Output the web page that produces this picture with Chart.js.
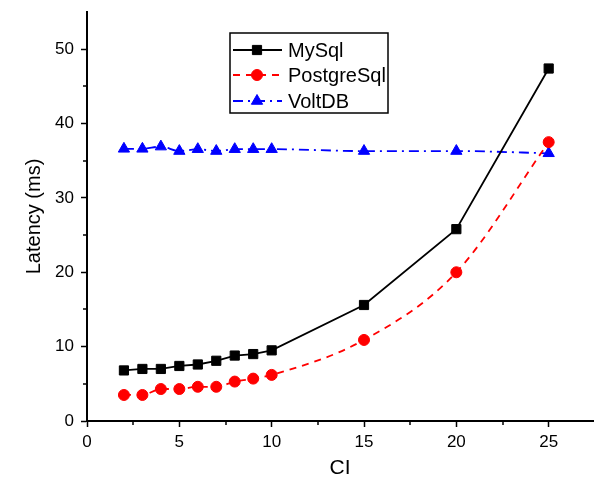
<!DOCTYPE html>
<html>
<head>
<meta charset="utf-8">
<script src="https://cdn.jsdelivr.net/npm/chart.js@4.4.1/dist/chart.umd.min.js"></script>
<style>
html,body{margin:0;padding:0;background:#fff;}
#wrap{width:595px;height:485px;position:relative;}
</style>
</head>
<body>
<div id="wrap"><canvas id="c" width="595" height="485"></canvas></div>
<script>
const ciValues = [2, 3, 4, 5, 6, 7, 8, 9, 10, 15, 20, 25];
const mysqlLatency = [6.8, 7.0, 7.0, 7.4, 7.6, 8.1, 8.8, 9.0, 9.5, 15.6, 25.8, 47.4];
const postgresLatency = [3.5, 3.5, 4.3, 4.3, 4.6, 4.6, 5.3, 5.7, 6.2, 10.9, 20.0, 37.5];
const voltdbLatency = [36.6, 36.6, 36.9, 36.3, 36.55, 36.3, 36.55, 36.55, 36.55, 36.3, 36.3, 36.0];
const seriesLabels = ['MySql', 'PostgreSql', 'VoltDB'];
const xTitle = 'CI';
const yTitle = 'Latency (ms)';

const FONT = '"Liberation Sans", Arial, sans-serif';
function pts(ys){ return ciValues.map((x,i)=>({x:x, y:ys[i]})); }

const legendPlugin = {
  id: 'boxLegend',
  afterDraw(chart) {
    const ctx = chart.ctx;
    const x0 = 230, y0 = 33, x1 = 388, y1 = 113;
    ctx.save();
    ctx.fillStyle = '#fff';
    ctx.fillRect(x0, y0, x1 - x0, y1 - y0);
    ctx.strokeStyle = '#000';
    ctx.lineWidth = 1.5;
    ctx.strokeRect(x0, y0, x1 - x0, y1 - y0);
    const rows = [50, 75, 101];
    chart.data.datasets.forEach((ds, i) => {
      const y = rows[i];
      ctx.save();
      ctx.strokeStyle = ds.borderColor;
      ctx.lineWidth = ds.borderWidth;
      ctx.setLineDash(ds.borderDash || []);
      ctx.beginPath();
      ctx.moveTo(233, y);
      ctx.lineTo(282, y);
      ctx.stroke();
      ctx.restore();
      ctx.save();
      ctx.fillStyle = ds.pointBackgroundColor;
      ctx.strokeStyle = ds.pointBorderColor;
      ctx.lineWidth = 1;
      ctx.setLineDash([]);
      Chart.helpers.drawPoint(ctx, {
        pointStyle: ds.pointStyle, radius: ds.pointRadius, borderWidth: 1
      }, 257, y);
      ctx.restore();
      ctx.fillStyle = '#000';
      ctx.font = '20px ' + FONT;
      ctx.textBaseline = 'middle';
      ctx.textAlign = 'left';
      ctx.fillText(ds.label, 288, y + 1);
    });
    ctx.restore();
  }
};

const minorTickPlugin = {
  id: 'minorTicks',
  afterDraw(chart) {
    const ctx = chart.ctx;
    const xs = chart.scales.x, ys = chart.scales.y;
    ctx.save();
    ctx.strokeStyle = '#000';
    ctx.lineWidth = 1.5;
    ctx.beginPath();
    for (let v = 2.5; v < 27.4; v += 5) {
      const px = Math.round(xs.getPixelForValue(v));
      ctx.moveTo(px, ys.bottom);
      ctx.lineTo(px, ys.bottom + 4);
    }
    for (let v = 5; v < 55; v += 10) {
      const py = Math.round(ys.getPixelForValue(v));
      ctx.moveTo(xs.left, py);
      ctx.lineTo(xs.left - 4, py);
    }
    ctx.stroke();
    ctx.restore();
  }
};

function makeDs(label, data, color, dash, style, radius, tension) {
  return {
    label: label,
    data: pts(data),
    borderColor: color,
    backgroundColor: color,
    pointBackgroundColor: color,
    pointBorderColor: color,
    borderWidth: 1.8,
    borderDash: dash,
    pointStyle: style,
    pointRadius: radius,
    pointHoverRadius: radius,
    pointBorderWidth: 1,
    tension: tension,
    cubicInterpolationMode: tension > 0 ? 'monotone' : 'default',
    fill: false
  };
}

function zeroPad(s) { s.paddingLeft = 0; s.paddingRight = 0; s.paddingTop = 0; s.paddingBottom = 0; }

new Chart(document.getElementById('c'), {
  type: 'line',
  data: {
    datasets: [
      makeDs(seriesLabels[0], mysqlLatency, '#000000', [], 'rect', 6.5, 0),
      makeDs(seriesLabels[1], postgresLatency, '#ff0000', [7, 6], 'circle', 5.5, 0.4),
      makeDs(seriesLabels[2], voltdbLatency, '#0000ff', [10, 5, 2, 5], 'triangle', 6.5, 0.4)
    ]
  },
  options: {
    responsive: false,
    animation: false,
    events: [],
    layout: { autoPadding: false, padding: { top: 12, right: 2, left: 0, bottom: 0 } },
    plugins: { legend: { display: false }, tooltip: { enabled: false } },
    scales: {
      x: {
        type: 'linear',
        min: 0, max: 27.4,
        afterFit(s) { s.height = 64; zeroPad(s); },
        border: { display: true, color: '#000', width: 2 },
        grid: {
          display: true, drawOnChartArea: false, drawTicks: true, tickLength: 6,
          tickWidth: 1.5,
          tickColor: (c) => (c.tick && c.tick.value % 5 === 0) ? '#000' : 'rgba(0,0,0,0)'
        },
        ticks: {
          stepSize: 2.5, includeBounds: false, autoSkip: false, maxRotation: 0,
          color: '#000', padding: 5,
          font: { family: FONT, size: 17 },
          callback: (v) => (v % 5 === 0 ? String(v) : '')
        },
        title: {
          display: true, text: xTitle, color: '#000',
          font: { family: FONT, size: 21 },
          padding: { top: 0, bottom: 4 }
        }
      },
      y: {
        type: 'linear',
        min: 0, max: 55,
        afterFit(s) { s.width = 87; zeroPad(s); },
        border: { display: true, color: '#000', width: 2 },
        grid: {
          display: true, drawOnChartArea: false, drawTicks: true, tickLength: 6,
          tickWidth: 1.5,
          tickColor: (c) => (c.tick && c.tick.value % 10 === 0) ? '#000' : 'rgba(0,0,0,0)'
        },
        ticks: {
          stepSize: 5, includeBounds: false, autoSkip: false,
          color: '#000', padding: 7,
          font: { family: FONT, size: 17 },
          callback: (v) => (v % 10 === 0 ? String(v) : '')
        },
        title: {
          display: true, text: yTitle, color: '#000',
          font: { family: FONT, size: 20 },
          padding: { top: 22, bottom: 0 }
        }
      }
    }
  },
  plugins: [minorTickPlugin, legendPlugin]
});
</script>
</body>
</html>
